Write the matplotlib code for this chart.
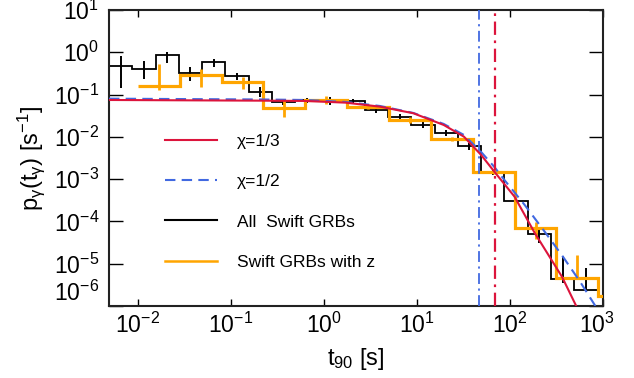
import numpy as np
import matplotlib
matplotlib.use('Agg')
import matplotlib.pyplot as plt
from matplotlib.lines import Line2D
from matplotlib.ticker import LogLocator, NullLocator, NullFormatter
import matplotlib.transforms as mtransforms

plt.rcParams['font.family'] = ['Liberation Sans', 'DejaVu Sans']
plt.rcParams['mathtext.fontset'] = 'custom'
plt.rcParams['mathtext.rm'] = 'Liberation Sans'
plt.rcParams['mathtext.it'] = 'Liberation Sans:italic'
plt.rcParams['mathtext.bf'] = 'Liberation Sans:bold'
plt.rcParams['mathtext.default'] = 'regular'

# ---- All Swift GRBs: log10(t90) bin edges, density, errors ----
all_edges_log = [-2.31, -2.06, -1.81, -1.56, -1.31, -1.06, -0.81, -0.56, -0.31, -0.06,
                 0.19, 0.44, 0.69, 0.94, 1.19, 1.44, 1.69, 1.94, 2.19, 2.44, 2.69, 2.94]
all_vals = [0.474, 0.396, 0.849, 0.330, 0.580, 0.275, 0.117, 0.068, 0.0745, 0.0713,
            0.0687, 0.0433, 0.0300, 0.0191, 0.0122, 0.0060, 0.00143, 3.1e-4, 5.06e-5,
            4.3e-6, 2.4e-6]
all_err_lo = [0.331, 0.166, 0.28, 0.117, 0.123, 0.054, 0.031, 0.01, 0.01, 0.016,
              0.008, 0.006, 0.004, 0.003, 0.002, 0.001, 0.0002, 6e-5, 2e-5, 0.8e-6, 0.0]
all_err_hi = [0.344, 0.236, 0.18, 0.127, 0.115, 0.055, 0.032, 0.01, 0.01, 0.018,
              0.008, 0.006, 0.004, 0.003, 0.002, 0.001, 0.0002, 6e-5, 2e-5, 1.1e-5, 5.4e-6]

# ---- Swift GRBs with z ----
z_edges_log = [-2.0, -1.55, -1.1, -0.65, -0.2, 0.25, 0.7, 1.15, 1.6, 2.05, 2.5, 2.95, 3.4]
z_vals = [0.160, 0.290, 0.195, 0.049, 0.0745, 0.050, 0.0251, 0.00877, 0.00150,
          7.0e-5, 4.69e-6, 1.73e-6]
z_err_lo = [0.031, 0.139, 0.06, 0.019, 0.0145, 0.005, 0.004, 0.001, 0.0002, 3.2e-5, 0.0, 0.0]
z_err_hi = [0.368, 0.113, 0.07, 0.0255, 0.018, 0.005, 0.005, 0.001, 0.0002, 2.9e-5, 1.14e-5, 0.0]

# ---- model curves (log10 values) ----
red_t_log = [-2.31, -0.668, -0.201, 0.234, 0.603, 0.962, 1.288, 1.505, 1.690, 1.832,
             2.049, 2.266, 2.560, 2.712]
red_p_log = [-1.128, -1.144, -1.151, -1.191, -1.286, -1.442, -1.719, -1.995, -2.428,
             -2.823, -3.414, -4.272, -5.312, -6.0]
blue_t_log = [-2.31, -0.668, -0.201, 0.234, 0.603, 0.962, 1.288, 1.505, 1.690, 1.832,
              1.940, 2.158, 2.375, 2.571, 2.755, 2.918]
blue_p_log = [-1.097, -1.116, -1.128, -1.175, -1.27, -1.435, -1.695, -1.955, -2.357,
              -2.712, -3.019, -3.61, -4.248, -4.839, -5.43, -6.0]

vline_half = 46.5   # chi = 1/2
vline_third = 69.0  # chi = 1/3

RED = '#DC143C'
BLUE = '#4169E1'
ORANGE = '#FFA500'

fig = plt.figure(figsize=(6.34, 3.78), dpi=100)
ax = fig.add_axes([109 / 634, 1 - 306 / 378, 494 / 634, 296 / 378])
ax.set_xscale('log')
ax.set_yscale('log')

ae = 10 ** np.array(all_edges_log)
ze = 10 ** np.array(z_edges_log)
ac = 10 ** ((np.array(all_edges_log[:-1]) + np.array(all_edges_log[1:])) / 2)
zc = 10 ** ((np.array(z_edges_log[:-1]) + np.array(z_edges_log[1:])) / 2)

ax.stairs(all_vals, ae, baseline=None, color='black', lw=1.3, zorder=2)
ax.errorbar(ac, all_vals, yerr=[all_err_lo, all_err_hi], fmt='none', ecolor='black',
            elinewidth=1.4, capsize=0, zorder=2)
ax.stairs(z_vals, ze, baseline=None, color=ORANGE, lw=2.3, zorder=3)
ax.errorbar(zc, z_vals, yerr=[z_err_lo, z_err_hi], fmt='none', ecolor=ORANGE,
            elinewidth=2.0, capsize=0, zorder=3)

ax.plot(10 ** np.array(blue_t_log), 10 ** np.array(blue_p_log), color=BLUE, lw=1.5,
        ls=(0, (5, 3)), zorder=4)
ax.plot(10 ** np.array(red_t_log), 10 ** np.array(red_p_log), color=RED, lw=1.5, zorder=5)
ax.axvline(vline_half, color=BLUE, lw=1.3, ls=(0, (6, 2.5, 1.2, 2.5)), zorder=4)
ax.axvline(vline_third, color=RED, lw=1.6, ls=(0, (6, 2.5, 1.2, 2.5)), zorder=4)

ax.set_xlim(10 ** -2.31, 1e3)
ax.set_ylim(1e-6, 10)

xt = [1e-2, 1e-1, 1e0, 1e1, 1e2, 1e3]
ax.set_xticks(xt, [r'$10^{-2}$', r'$10^{-1}$', r'$10^{0}$', r'$10^{1}$', r'$10^{2}$', r'$10^{3}$'])
ax.xaxis.set_minor_locator(NullLocator())
yt = [1e-6, 1e-5, 1e-4, 1e-3, 1e-2, 1e-1, 1e0, 1e1]
ax.set_yticks(yt, [r'$10^{-6}$', r'$10^{-5}$', r'$10^{-4}$', r'$10^{-3}$', r'$10^{-2}$',
                   r'$10^{-1}$', r'$10^{0}$', r'$10^{1}$'])
ax.yaxis.set_minor_locator(LogLocator(base=10, subs=np.arange(2, 10)))
ax.yaxis.set_minor_formatter(NullFormatter())

ax.tick_params(which='both', direction='in', top=True, right=True, colors='black')
ax.tick_params(axis='x', which='major', length=5, width=1.0, pad=5, labelsize=16.5)
ax.tick_params(axis='y', which='major', length=10, width=1.0, pad=7, labelsize=16.5)
ax.tick_params(axis='y', which='minor', length=5, width=1.0)
for s in ax.spines.values():
    s.set_linewidth(1.5)
    s.set_color('#222222')

# shift corner labels as in the reference
ylabs = ax.get_yticklabels()
ylabs[0].set_transform(ylabs[0].get_transform() +
                       mtransforms.ScaledTranslation(0, 15 / 100, fig.dpi_scale_trans))
xlabs = ax.get_xticklabels()
xlabs[-1].set_transform(xlabs[-1].get_transform() +
                        mtransforms.ScaledTranslation(-6 / 100, 0, fig.dpi_scale_trans))

ax.set_xlabel(r't$_{90}$ [s]', fontsize=17, labelpad=6)
ax.set_ylabel(r'p$_{\gamma}$(t$_{\gamma}$) [s$^{-1}$]', fontsize=17, labelpad=5)

handles = [Line2D([], [], color=RED, lw=1.5),
           Line2D([], [], color=BLUE, lw=1.5, ls=(0, (5, 3))),
           Line2D([], [], color='black', lw=1.5),
           Line2D([], [], color=ORANGE, lw=1.8)]
labels = ['χ=1/3', 'χ=1/2', 'All  Swift GRBs', 'Swift GRBs with z']
ax.legend(handles, labels, loc='upper left', bbox_to_anchor=(0.113, 0.582), frameon=False,
          fontsize=12.5, handlelength=3.0, handletextpad=1.15, labelspacing=1.45,
          borderpad=0, borderaxespad=0)

fig.savefig('out.png', dpi=100)
